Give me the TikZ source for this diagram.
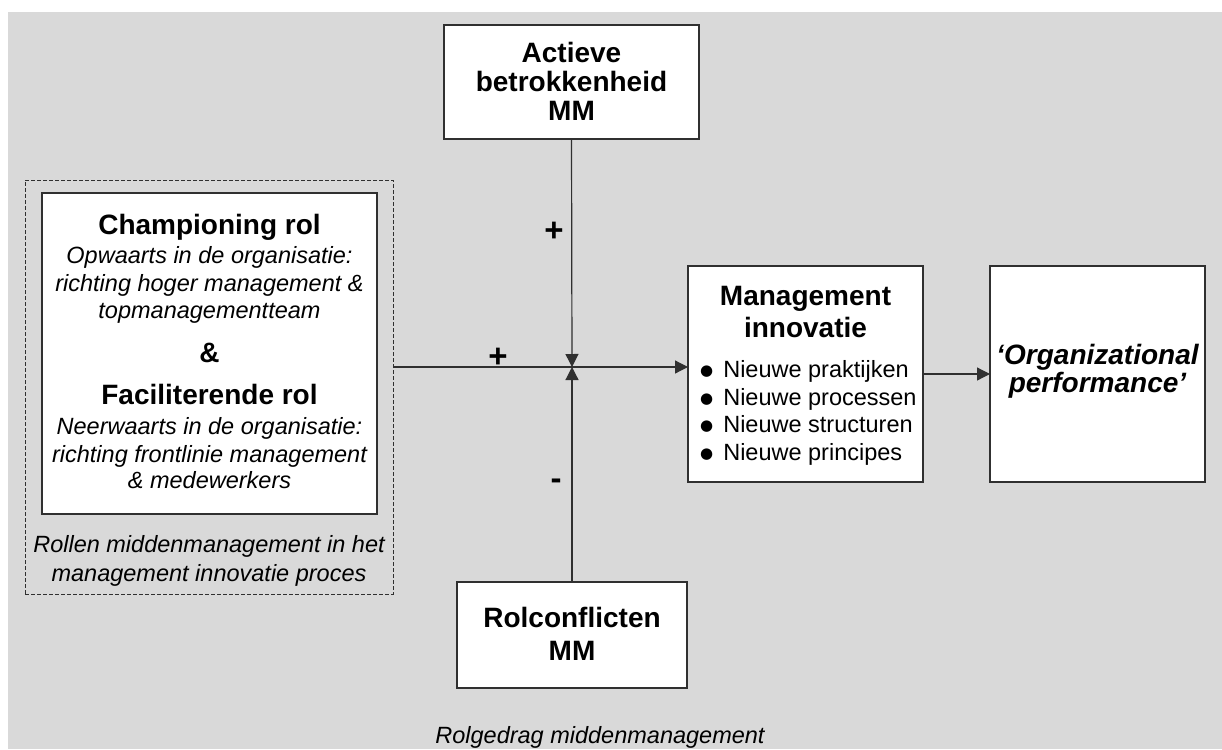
\documentclass[tikz,border=0pt]{standalone}
\usepackage{fontspec}
\setmainfont{Liberation Sans}
\newfontfamily\symfont{DejaVu Sans}
\usetikzlibrary{arrows.meta}

\definecolor{panelgray}{HTML}{D9D9D9}
\definecolor{inkline}{HTML}{303030}

\newcommand\headfont{\fontsize{28}{32}\selectfont\bfseries}
\newcommand\signfont{\fontsize{33}{36}\selectfont\bfseries}
\newcommand\notefont{\fontsize{23.5}{27}\selectfont\itshape}
\newcommand\bodyfont{\fontsize{23.5}{27}\selectfont}
\newcommand\bul{\raisebox{1.5pt}{\symfont\fontsize{15}{15}\selectfont ●}\hspace{10pt}}

\tikzset{
  box/.style={draw=inkline, fill=white, line width=1.3pt, inner sep=0pt, outer sep=0pt},
  groupbox/.style={draw=inkline, dashed, dash pattern=on 4pt off 2pt, line width=1pt, inner sep=0pt, outer sep=0pt},
  head/.style={inner sep=0pt, anchor=base, font=\headfont},
  note/.style={inner sep=0pt, anchor=base, font=\notefont},
  item/.style={inner sep=0pt, anchor=base west, font=\bodyfont},
  sign/.style={inner sep=0pt, font=\signfont},
  conn/.style={draw=inkline, line width=1.2pt, -{Triangle[length=13pt,width=13pt]}},
}

\begin{document}
\begin{tikzpicture}[x=1pt, y=-1pt]
  \useasboundingbox (0,0) rectangle (1222,749);
  \fill[panelgray] (8,12) rectangle (1222,749);

  % role group (dashed) and the role box inside it
  \node[groupbox, minimum width=368pt, minimum height=414pt] (roles) at (209,387) {};
  \node[box, minimum width=335pt, minimum height=321pt] (rolebox) at (209.5,353.5) {};
  \node[head] (champ)  at (209.5,234) {Championing rol};
  \node[note] (champa) at (209.5,263) {Opwaarts in de organisatie:};
  \node[note] (champb) at (209.5,291) {richting hoger management \&};
  \node[note] (champc) at (209.5,318) {topmanagementteam};
  \node[head] (amp)    at (209.5,362) {\&};
  \node[head] (facil)  at (209.5,404) {Faciliterende rol};
  \node[note] (facila) at (209.5,434) {Neerwaarts in de organisatie:};
  \node[note] (facilb) at (209.5,462) {richting frontlinie management};
  \node[note] (facilc) at (209.5,488) {\& medewerkers};
  \node[note] (groupa) at (209,552) {Rollen middenmanagement in het};
  \node[note] (groupb) at (209,581) {management innovatie proces};

  % moderators
  \node[box, minimum width=255pt, minimum height=114pt] (active) at (571.5,82) {};
  \node[head] (activea) at (571.5,63)  {Actieve};
  \node[head] (activeb) at (571.5,92)  {betrokkenheid};
  \node[head] (activec) at (571.5,121) {MM};

  \node[box, minimum width=230pt, minimum height=106pt] (conflict) at (572,635) {};
  \node[head] (conflicta) at (572,627) {Rolconflicten};
  \node[head] (conflictb) at (572,660) {MM};

  % management innovation
  \node[box, minimum width=235pt, minimum height=216pt] (innov) at (805.5,374) {};
  \node[head] (innova) at (805.5,305) {Management};
  \node[head] (innovb) at (805.5,337) {innovatie};
  \node[item] (it1) at (700,377) {\bul Nieuwe praktijken};
  \node[item] (it2) at (700,405) {\bul Nieuwe processen};
  \node[item] (it3) at (700,432) {\bul Nieuwe structuren};
  \node[item] (it4) at (700,460) {\bul Nieuwe principes};

  % outcome
  \node[box, minimum width=215pt, minimum height=216pt] (perf) at (1097.5,374) {};
  \node[head, font=\headfont\itshape] (perfa) at (1097.5,364) {‘Organizational};
  \node[head, font=\headfont\itshape] (perfb) at (1097.5,392) {performance’};

  % connectors
  \coordinate (junction) at (572,367);
  \draw[conn] (roles.east |- junction) -- (innov.west |- junction);
  \draw[conn] (active.south) -- (junction);
  \draw[conn] (conflict.north) -- (junction);
  \draw[conn] (innov.east) -- (perf.west);

  % signs
  \node[sign] (plusa)  at (498,358) {+};
  \node[sign] (plusb)  at (554,232) {+};
  \node[sign] (minus)  at (556,484) {-};

  % caption
  \node[note] (caption) at (600,743) {Rolgedrag middenmanagement};
\end{tikzpicture}
\end{document}
